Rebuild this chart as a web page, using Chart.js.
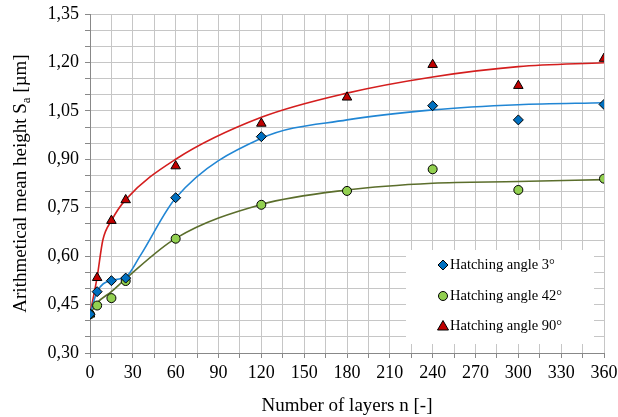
<!DOCTYPE html>
<html>
<head>
<meta charset="utf-8">
<script src="https://cdn.jsdelivr.net/npm/chart.js@4/dist/chart.umd.min.js"></script>
<style>
  html, body { margin: 0; padding: 0; background: #fff; }
  #wrap { width: 618px; height: 417px; position: relative; }
</style>
</head>
<body>
<div id="wrap"><canvas id="grafica"></canvas></div>
<script>
// measured points
var capasA = [0, 5, 15, 25, 60, 120, 240, 300, 360];
var angulo3 = [0.42, 0.49, 0.524, 0.532, 0.781, 0.970, 1.066, 1.022, 1.070];

var capasB = [0, 5, 15, 25, 60, 120, 180, 240, 300, 360];
var angulo42 = [0.42, 0.447, 0.470, 0.523, 0.654, 0.759, 0.802, 0.869, 0.805, 0.840];
var angulo90 = [0.42, 0.533, 0.710, 0.774, 0.879, 1.011, 1.092, 1.193, 1.128, 1.212];

// trend curves
var curvaX3 = [0, 5, 15, 25, 35, 60, 120, 180, 240, 300, 360];
var curva3 = [0.42, 0.49, 0.525, 0.535, 0.60, 0.78, 0.965, 1.022, 1.053, 1.069, 1.075];
var curvaX42 = [0, 5, 15, 25, 60, 120, 180, 240, 300, 360];
var curva42 = [0.42, 0.455, 0.49, 0.53, 0.655, 0.76, 0.805, 0.826, 0.831, 0.837];
var curvaX90 = [0, 5, 9, 15, 25, 60, 120, 180, 240, 300, 360];
var curva90 = [0.42, 0.535, 0.65, 0.71, 0.775, 0.90, 1.03, 1.105, 1.155, 1.187, 1.199];

var nombres = ["Hatching angle 3°", "Hatching angle 42°", "Hatching angle 90°"];

var fuente = "'Liberation Serif', 'Times New Roman', serif";

function pares(xs, ys) {
    var r = [];
    for (var i = 0; i < xs.length; i++) r.push({ x: xs[i], y: ys[i] });
    return r;
}

function dibujarMarca(ctx, tipo, x, y, color) {
    ctx.save();
    ctx.fillStyle = color;
    ctx.strokeStyle = "#000";
    ctx.lineWidth = 1;
    ctx.beginPath();
    if (tipo === "rombo") {
        ctx.moveTo(x, y - 5); ctx.lineTo(x + 5, y); ctx.lineTo(x, y + 5); ctx.lineTo(x - 5, y);
    } else if (tipo === "circulo") {
        ctx.arc(x, y, 4.5, 0, 2 * Math.PI);
    } else {
        ctx.moveTo(x, y - 5.5); ctx.lineTo(x + 5.5, y + 4); ctx.lineTo(x - 5.5, y + 4);
    }
    ctx.closePath();
    ctx.fill();
    ctx.stroke();
    ctx.restore();
}

var leyenda = {
    id: "leyenda",
    afterDatasetsDraw: function (chart) {
        var ctx = chart.ctx;
        ctx.save();
        ctx.fillStyle = "#fff";
        ctx.fillRect(406, 250, 188, 94);
        var tipos = ["rombo", "circulo", "triangulo"];
        var colores = ["#0070C0", "#92D050", "#C00000"];
        var ys = [265, 296, 326];
        ctx.font = "14.5px " + fuente;
        ctx.textBaseline = "middle";
        for (var i = 0; i < 3; i++) {
            dibujarMarca(ctx, tipos[i], 443, ys[i], colores[i]);
            ctx.fillStyle = "#000";
            ctx.fillText(nombres[i], 450, ys[i]);
        }
        ctx.restore();
    }
};

var tituloY = {
    id: "tituloY",
    afterDraw: function (chart) {
        var ctx = chart.ctx;
        var area = chart.chartArea;
        var p1 = "Arithmetical mean height S";
        var p2 = "a";
        var p3 = " [µm]";
        ctx.save();
        ctx.font = "19px " + fuente;
        var w1 = ctx.measureText(p1).width;
        var w3 = ctx.measureText(p3).width;
        ctx.font = "13px " + fuente;
        var w2 = ctx.measureText(p2).width;
        var total = w1 + w2 + w3;
        ctx.translate(26, (area.top + area.bottom) / 2);
        ctx.rotate(-Math.PI / 2);
        ctx.fillStyle = "#000";
        ctx.textBaseline = "alphabetic";
        var x0 = -total / 2;
        ctx.font = "19px " + fuente;
        ctx.fillText(p1, x0, 0);
        ctx.font = "13px " + fuente;
        ctx.fillText(p2, x0 + w1, 4);
        ctx.font = "19px " + fuente;
        ctx.fillText(p3, x0 + w1 + w2, 0);
        ctx.restore();
    }
};

var ctx = document.getElementById("grafica");

var myChart = new Chart(ctx, {
    type: "scatter",
    data: {
        datasets: [
            {
                label: nombres[0],
                data: pares(capasA, angulo3),
                pointStyle: "rectRot",
                pointRadius: 5,
                backgroundColor: "#0070C0",
                borderColor: "#000",
                borderWidth: 1,
                order: 1,
            },
            {
                label: nombres[1],
                data: pares(capasB, angulo42),
                pointStyle: "circle",
                pointRadius: 4.5,
                backgroundColor: "#92D050",
                borderColor: "#000",
                borderWidth: 1,
                order: 1,
            },
            {
                label: nombres[2],
                data: pares(capasB, angulo90),
                pointStyle: "triangle",
                pointRadius: 5.5,
                backgroundColor: "#C00000",
                borderColor: "#000",
                borderWidth: 1,
                order: 1,
            },
            {
                type: "line",
                label: "curva3",
                data: pares(curvaX3, curva3),
                borderColor: "#2186D4",
                borderWidth: 1.6,
                pointRadius: 0,
                cubicInterpolationMode: "monotone",
                fill: false,
                order: 2,
            },
            {
                type: "line",
                label: "curva42",
                data: pares(curvaX42, curva42),
                borderColor: "#5B6E2C",
                borderWidth: 1.6,
                pointRadius: 0,
                cubicInterpolationMode: "monotone",
                fill: false,
                order: 2,
            },
            {
                type: "line",
                label: "curva90",
                data: pares(curvaX90, curva90),
                borderColor: "#D41E1E",
                borderWidth: 1.6,
                pointRadius: 0,
                cubicInterpolationMode: "monotone",
                fill: false,
                order: 2,
            },
        ],
    },
    options: {
        responsive: true,
        maintainAspectRatio: false,
        animation: false,
        layout: { padding: { top: 14, right: 14, left: 0, bottom: 0 } },
        plugins: {
            legend: { display: false },
            tooltip: { enabled: false },
        },
        scales: {
            x: {
                type: "linear",
                min: 0,
                max: 360,
                afterFit: function (scale) {
                    scale.height = 64;
                    scale.paddingLeft = 0;
                    scale.paddingRight = 0;
                },
                ticks: {
                    stepSize: 15,
                    autoSkip: false,
                    maxRotation: 0,
                    color: "#000",
                    font: { family: fuente, size: 18 },
                    padding: 4,
                    callback: function (v) { return v % 30 === 0 ? String(v) : ""; },
                },
                grid: { color: "#c6c6c6", lineWidth: 1, tickLength: 5, tickColor: "#888" },
                border: { color: "#888", width: 1 },
                title: {
                    display: true,
                    text: "Number of layers n [-]",
                    color: "#000",
                    font: { family: fuente, size: 19 },
                    padding: { top: 4, bottom: 0 },
                },
            },
            y: {
                min: 0.3,
                max: 1.35,
                afterFit: function (scale) {
                    scale.width = 90;
                    scale.paddingTop = 0;
                    scale.paddingBottom = 0;
                },
                ticks: {
                    stepSize: 0.05,
                    autoSkip: false,
                    color: "#000",
                    font: { family: fuente, size: 18 },
                    padding: 6,
                    callback: function (v) {
                        var c = Math.round(v * 100);
                        if ((c - 30) % 15 !== 0) return "";
                        return (c / 100).toFixed(2).replace(".", ",");
                    },
                },
                grid: { color: "#c6c6c6", lineWidth: 1, tickLength: 5, tickColor: "#888" },
                border: { color: "#888", width: 1 },
            },
        },
    },
    plugins: [leyenda, tituloY],
});
</script>
</body>
</html>
